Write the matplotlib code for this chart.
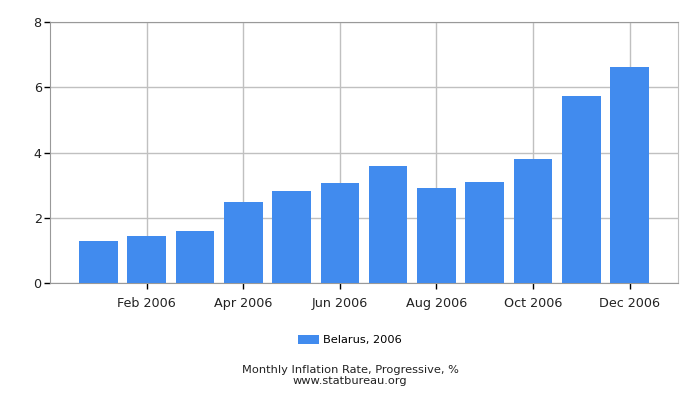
from matplotlib import pyplot as plt
import numpy as np

# Data
months = ['Jan', 'Feb', 'Mar', 'Apr', 'May', 'Jun',
          'Jul', 'Aug', 'Sep', 'Oct', 'Nov', 'Dec']
values = [1.30, 1.45, 1.60, 2.49, 2.83, 3.07, 3.60, 2.92, 3.10, 3.81, 5.74, 6.63]
tick_labels = ['Feb 2006', 'Apr 2006', 'Jun 2006', 'Aug 2006', 'Oct 2006', 'Dec 2006']
series_name = 'Belarus, 2006'

bar_color = '#418bee'
grid_color = '#c0c0c0'

fig = plt.figure(figsize=(7, 4), dpi=100)
ax = fig.add_axes([50 / 700, 117 / 400, 628 / 700, 261 / 400])

x = np.arange(len(months))
ax.bar(x, values, width=0.8, color=bar_color, label=series_name, zorder=3)

ax.set_xlim(-1, 12)
ax.set_ylim(0, 8)
ax.set_yticks([0, 2, 4, 6, 8])
ax.set_xticks(x[1::2])
ax.set_xticklabels(tick_labels)
ax.grid(True, color=grid_color, linewidth=1, zorder=0)

for side in ['top', 'bottom', 'left']:
    ax.spines[side].set_color('#999999')
ax.spines['right'].set_color(grid_color)
ax.tick_params(axis='both', colors='black', labelsize=9.2, length=4, width=1)
ax.tick_params(axis='y', pad=2)
ax.tick_params(axis='x', pad=6)
for lbl in ax.get_xticklabels() + ax.get_yticklabels():
    lbl.set_color('#222222')

fig.legend(loc='center', bbox_to_anchor=(0.5, 1 - 340 / 400), frameon=False,
           fontsize=8.2, handlelength=1.8, handleheight=0.8, handletextpad=0.4)

fig.text(0.5, 1 - 370 / 400, 'Monthly Inflation Rate, Progressive, %',
         ha='center', va='center', fontsize=8.2, color='#222222')
fig.text(0.5, 1 - 381 / 400, 'www.statbureau.org',
         ha='center', va='center', fontsize=8.2, color='#222222')

fig.savefig('out.png', dpi=100)
